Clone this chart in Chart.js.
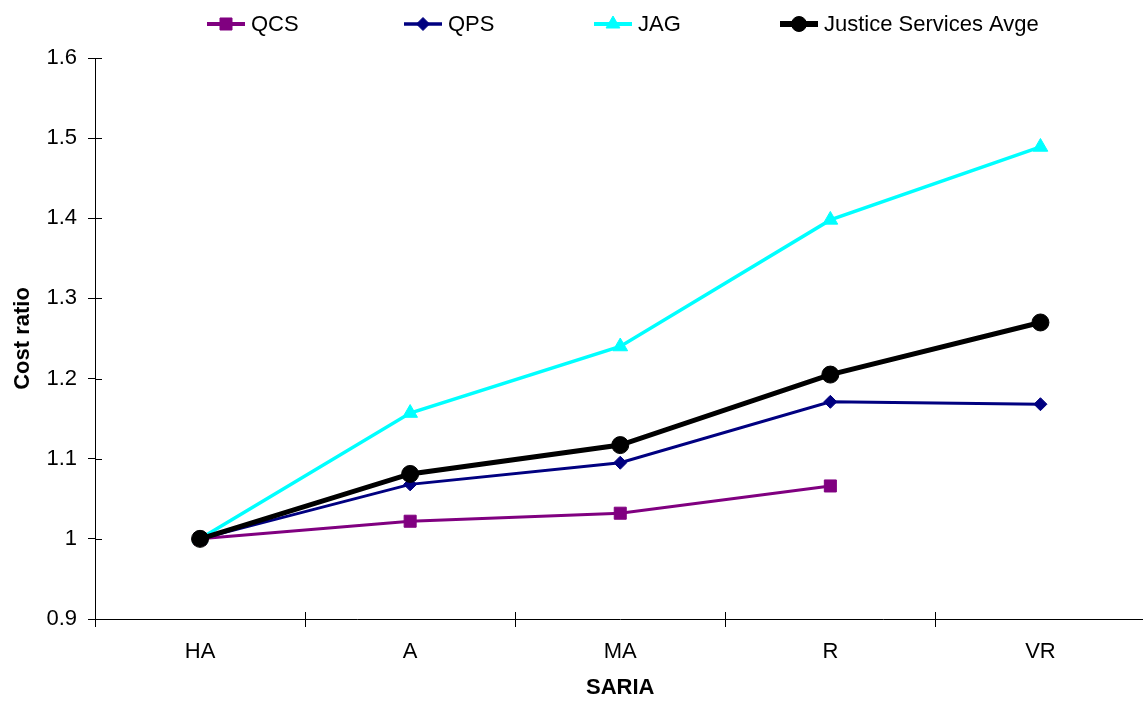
<!DOCTYPE html>
<html>
<head>
<meta charset="utf-8">
<script src="https://cdn.jsdelivr.net/npm/chart.js@4/dist/chart.umd.min.js"></script>
<style>
  html, body { margin: 0; padding: 0; background: #fff; overflow: hidden; }
  #wrap { position: relative; width: 1143px; height: 701px; overflow: hidden; }
  #c { display: block; }
</style>
</head>
<body>
<div id="wrap"><canvas id="c" width="1155" height="701"></canvas></div>
<script>
const categories = ['HA', 'A', 'MA', 'R', 'VR'];
const qcs = [1.000, 1.022, 1.032, 1.066, null];
const qps = [1.000, 1.068, 1.095, 1.171, 1.168];
const jag = [1.000, 1.157, 1.240, 1.398, 1.489];
const avge = [1.000, 1.081, 1.117, 1.205, 1.270];
const yTicks = [0.9, 1.0, 1.1, 1.2, 1.3, 1.4, 1.5, 1.6];
const seriesNames = ['QCS', 'QPS', 'JAG', 'Justice Services Avge'];

const FONT = 'Arial, "Liberation Sans", Helvetica, sans-serif';

// Custom legend: line segment with marker, then label
const legendPlugin = {
  id: 'customLegend',
  afterDraw(chart) {
    const ctx = chart.ctx;
    const y = 24;
    const starts = [207, 404, 594, 780];
    const lineLen = 38;
    ctx.save();
    chart.data.datasets.forEach((ds, i) => {
      const x0 = starts[i];
      ctx.strokeStyle = ds.borderColor;
      ctx.lineWidth = ds.legendLineWidth;
      ctx.beginPath();
      ctx.moveTo(x0, y);
      ctx.lineTo(x0 + lineLen, y);
      ctx.stroke();
      ctx.fillStyle = ds.pointBackgroundColor;
      ctx.strokeStyle = ds.pointBorderColor;
      ctx.lineWidth = 1;
      Chart.helpers.drawPoint(ctx, {pointStyle: ds.pointStyle, radius: ds.legendRadius, borderWidth: 1}, x0 + lineLen / 2, y);
      ctx.fillStyle = '#000';
      ctx.font = '22px ' + FONT;
      ctx.textBaseline = 'middle';
      ctx.textAlign = 'left';
      ctx.fillText(ds.label, x0 + lineLen + 6, y + 1);
    });
    ctx.restore();
  }
};

// Inner halves of tick marks (ticks cross the axes in the reference)
const innerTicks = {
  id: 'innerTicks',
  afterDraw(chart) {
    const ctx = chart.ctx;
    const xs = chart.scales.x, ys = chart.scales.y;
    const area = chart.chartArea;
    ctx.save();
    ctx.strokeStyle = '#000';
    ctx.lineWidth = 1;
    ctx.beginPath();
    yTicks.forEach(v => {
      const py = Math.round(ys.getPixelForValue(v)) + 0.5;
      ctx.moveTo(area.left, py);
      ctx.lineTo(area.left + 7, py);
    });
    for (let i = 0; i <= categories.length; i++) {
      const px = Math.round(xs.getPixelForTick(0) + (i - 0.5) * (xs.getPixelForTick(1) - xs.getPixelForTick(0))) + 0.5;
      ctx.moveTo(px, area.bottom);
      ctx.lineTo(px, area.bottom - 7);
    }
    ctx.stroke();
    ctx.restore();
  }
};

const mk = (label, data, color, width, style, radius, legendRadius, legendLineWidth, order) => ({
  label, data, order,
  borderColor: color,
  backgroundColor: color,
  pointBackgroundColor: color,
  pointBorderColor: color,
  borderWidth: width,
  pointStyle: style,
  pointRadius: radius,
  pointBorderWidth: 1,
  legendRadius,
  legendLineWidth,
  spanGaps: false,
  tension: 0
});

const datasets = [
  mk(seriesNames[0], qcs, '#800080', 3, 'rect', 8.5, 8.5, 4, 3),
  mk(seriesNames[1], qps, '#000080', 3, 'rectRot', 6.5, 6.5, 3.5, 2),
  mk(seriesNames[2], jag, '#00FFFF', 3.5, 'triangle', 8.5, 8, 4, 4),
  mk(seriesNames[3], avge, '#000000', 5, 'circle', 8.5, 7.5, 6, 1)
];

new Chart(document.getElementById('c'), {
  type: 'line',
  data: { labels: categories, datasets },
  plugins: [legendPlugin, innerTicks],
  options: {
    responsive: false,
    animation: false,
    devicePixelRatio: 1,
    layout: { padding: { top: 58, left: 0, right: 0, bottom: 0 } },
    plugins: {
      legend: { display: false },
      tooltip: { enabled: false }
    },
    scales: {
      x: {
        type: 'category',
        offset: true,
        grid: { offset: true, drawOnChartArea: false, drawTicks: true, tickLength: 8, color: '#000' },
        border: { display: true, color: '#000', width: 1 },
        ticks: { color: '#000', font: { family: FONT, size: 22 }, padding: 12, maxRotation: 0 },
        title: { display: true, text: 'SARIA', color: '#000', font: { family: FONT, size: 22, weight: 'bold' }, padding: { top: 0, bottom: 0 }, align: 'center' },
        afterFit(scale) { scale.height = 82; }
      },
      y: {
        type: 'linear',
        min: 0.9,
        max: 1.6,
        afterBuildTicks(scale) { scale.ticks = yTicks.map(v => ({ value: v })); },
        grid: { drawOnChartArea: false, drawTicks: true, tickLength: 7, color: '#000' },
        border: { display: true, color: '#000', width: 1 },
        ticks: {
          color: '#000',
          font: { family: FONT, size: 22 },
          padding: 11,
          callback: (v) => (Math.round(v * 10) / 10).toString()
        },
        title: { display: true, text: 'Cost ratio', color: '#000', font: { family: FONT, size: 22, weight: 'bold' }, padding: { top: 10, bottom: 0 } },
        afterFit(scale) { scale.width = 95; }
      }
    }
  }
});
</script>
</body>
</html>
